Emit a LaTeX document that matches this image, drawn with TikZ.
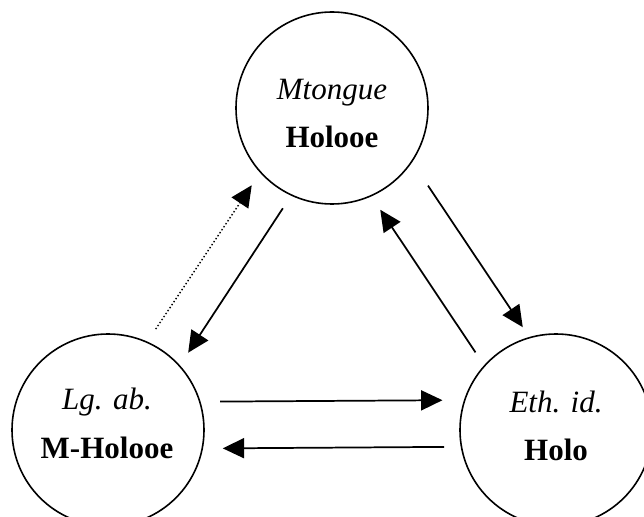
\documentclass[tikz,border=0pt]{standalone}
\usepackage{fontspec}
\setmainfont{Liberation Serif}
\usetikzlibrary{arrows.meta}
\tikzset{
  pole/.style={circle,draw,line width=1.2pt,minimum size=144pt,inner sep=0pt},
  lbl/.style={align=center,anchor=base,font=\fontsize{23.25}{36}\selectfont},
  fl/.style={-{Triangle[length=16pt,width=15pt]},line width=1.3pt},
}
\begin{document}
\begin{tikzpicture}[x=0.75pt,y=-0.75pt]
  \clip (0,0) rectangle (644,517);
  % les trois poles
  \node[pole] (mt) at (332,108) {};
  \node[pole] (lg) at (108,430) {};
  \node[pole] (eth) at (556,430) {};
  \node[lbl] (mttxt) at (332,148) {\textit{Mtongue}\\\textbf{Holooe}};
  \node[lbl] (lgtxt) at (107,458) {\textit{Lg. ab.}\\\textbf{M-Holooe}};
  \node[lbl] (ethtxt) at (556,460) {\textit{Eth. id.}\\\textbf{Holo}};
  % fleches
  \draw[fl,shorten <=11.25pt,shorten >=11.25pt] (mt.245.5) -- (lg.42.4);
  \draw[fl,line width=1pt,dash pattern=on 1.1pt off 1.6pt,shorten <=11.25pt,shorten >=11.25pt] (lg.66.4) -- (mt.222.1);
  \draw[fl,shorten <=21.2pt,shorten >=8.8pt] (mt.326.9) -- (eth.106.1);
  \draw[fl,shorten <=11.6pt,shorten >=12pt] (eth.138.1) -- (mt.294);
  \draw[fl,shorten <=14.6pt,shorten >=16.1pt] (lg.17.6) -- (eth.162.4);
  \draw[fl,shorten <=12.5pt,shorten >=14.8pt] (eth.190.8) -- (lg.349.2);
\end{tikzpicture}
\end{document}
